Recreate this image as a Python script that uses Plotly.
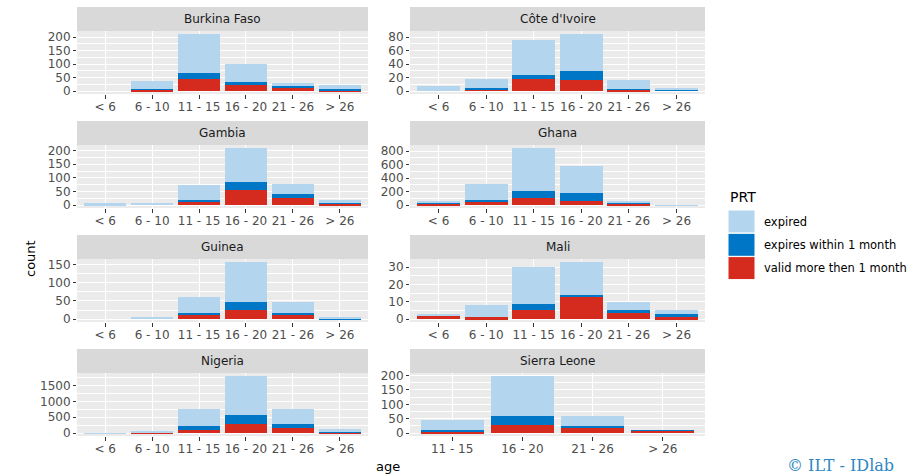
import plotly.graph_objects as go
from plotly.subplots import make_subplots

# Age groups (x categories) and countries (facets, row-wise)
age_groups = ["< 6", "6 - 10", "11 - 15", "16 - 20", "21 - 26", "> 26"]
countries = ["Burkina Faso", "Côte d'Ivoire", "Gambia", "Ghana",
             "Guinea", "Mali", "Nigeria", "Sierra Leone"]

# Counts per age group; None = age group absent for that country
valid_more_1m = {
    "Burkina Faso":  [0, 5, 44, 24, 10, 2],
    "Côte d'Ivoire": [0, 3, 18, 16, 2, 0],
    "Gambia":        [0, 0, 14, 56, 28, 6],
    "Ghana":         [28, 45, 113, 64, 20, 0],
    "Guinea":        [0, 0, 11, 26, 11, 0],
    "Mali":          [2, 1, 5, 13, 4, 1],
    "Nigeria":       [0, 5, 105, 283, 147, 30],
    "Sierra Leone":  [None, None, 6, 27, 17, 8],
}
expires_1m = {
    "Burkina Faso":  [0, 4, 25, 10, 9, 7],
    "Côte d'Ivoire": [0, 2, 6, 14, 1, 3],
    "Gambia":        [0, 0, 4, 30, 12, 1],
    "Ghana":         [4, 38, 93, 112, 14, 0],
    "Guinea":        [0, 0, 7, 20, 6, 3],
    "Mali":          [0, 0, 4, 1, 1, 2],
    "Nigeria":       [0, 0, 115, 294, 126, 10],
    "Sierra Leone":  [None, None, 5, 31, 9, 1],
}
expired = {
    "Burkina Faso":  [0, 27, 143, 66, 10, 12],
    "Côte d'Ivoire": [7, 13, 52, 55, 13, 1],
    "Gambia":        [7, 9, 56, 124, 38, 13],
    "Ghana":         [18, 236, 642, 407, 20, 2],
    "Guinea":        [0, 6, 44, 111, 31, 1],
    "Mali":          [1, 7, 21, 19, 5, 2],
    "Nigeria":       [1, 45, 535, 1228, 493, 75],
    "Sierra Leone":  [None, None, 33, 141, 32, 0],
}
y_dtick = {
    "Burkina Faso": 50, "Côte d'Ivoire": 20, "Gambia": 50, "Ghana": 200,
    "Guinea": 50, "Mali": 10, "Nigeria": 500, "Sierra Leone": 50,
}

series = [
    ("valid more then 1 month", valid_more_1m, "#D52B1E"),
    ("expires within 1 month", expires_1m, "#0076C6"),
    ("expired", expired, "#B3D6EE"),
]

W, H = 922, 475
col_px = [(77, 368), (410, 705)]
row_px = [(31, 94), (145, 208), (259, 322), (373, 436)]
STRIP = 24

TICK_FONT = dict(family="DejaVu Sans", size=12, color="#4D4D4D")

fig = make_subplots(rows=4, cols=2)

for i, country in enumerate(countries):
    r, c = divmod(i, 2)
    present = [v is not None for v in expired[country]]
    cats = [a for a, p in zip(age_groups, present) if p]
    totals = [0] * len(cats)
    for name, table, color in series:
        vals = [v for v, p in zip(table[country], present) if p]
        totals = [t + v for t, v in zip(totals, vals)]
        fig.add_trace(go.Bar(x=cats, y=vals, name=name, marker_color=color,
                             marker_line_width=0, showlegend=False),
                      row=r + 1, col=c + 1)
    top = max(totals)
    x0, x1 = col_px[c]
    y0, y1 = row_px[r]
    fig.update_xaxes(domain=[x0 / W, x1 / W], type="category",
                     categoryorder="array", categoryarray=cats,
                     range=[-0.6, len(cats) - 0.4],
                     showgrid=True, gridcolor="white", gridwidth=1.1,
                     ticks="outside", ticklen=4, tickcolor="#333333",
                     tickfont=TICK_FONT, showline=False, zeroline=False,
                     ticklabelstandoff=-2, automargin=False,
                     row=r + 1, col=c + 1)
    d = y_dtick[country]
    fig.update_yaxes(domain=[1 - y1 / H, 1 - y0 / H],
                     range=[-0.05 * top, 1.05 * top],
                     tick0=0, dtick=d,
                     showgrid=True, gridcolor="white", gridwidth=1.1,
                     minor=dict(dtick=d / 2, tick0=0, showgrid=True,
                                gridcolor="white", gridwidth=0.5),
                     ticks="outside", ticklen=3, tickcolor="#333333",
                     tickfont=TICK_FONT, showline=False, zeroline=False,
                     automargin=False,
                     row=r + 1, col=c + 1)
    # facet strip
    fig.add_shape(type="rect", xref="paper", yref="paper",
                  x0=x0 / W, x1=x1 / W,
                  y0=1 - y0 / H, y1=1 - (y0 - STRIP) / H,
                  fillcolor="#D9D9D9", line_width=0, layer="below")
    fig.add_annotation(x=(x0 + x1) / 2 / W, y=1 - (y0 - STRIP / 2) / H,
                       xref="paper", yref="paper", text=country,
                       showarrow=False, xanchor="center", yanchor="middle",
                       font=dict(family="DejaVu Sans", size=12,
                                 color="#1A1A1A"))

# axis titles
fig.add_annotation(x=388 / W, y=1 - 466 / H, xref="paper", yref="paper",
                   text="age", showarrow=False, xanchor="center",
                   yanchor="middle",
                   font=dict(family="DejaVu Sans", size=13, color="black"))
fig.add_annotation(x=30 / W, y=1 - 258 / H, xref="paper", yref="paper",
                   text="count", showarrow=False, textangle=-90,
                   xanchor="center", yanchor="middle",
                   font=dict(family="DejaVu Sans", size=13, color="black"))

# legend
fig.add_annotation(x=728 / W, y=1 - 197 / H, xref="paper", yref="paper",
                   text="PRT", showarrow=False, xanchor="left",
                   yanchor="middle",
                   font=dict(family="DejaVu Sans", size=14, color="black"))
key_top = 210
for k, (name, _, color) in enumerate(reversed(series)):
    ky0 = key_top + k * 23.3
    fig.add_shape(type="rect", xref="paper", yref="paper",
                  x0=728 / W, x1=755 / W,
                  y0=1 - (ky0 + 23) / H, y1=1 - ky0 / H,
                  fillcolor=color, line=dict(color="white", width=1))
    fig.add_annotation(x=762 / W, y=1 - (ky0 + 11.5) / H,
                       xref="paper", yref="paper", text=name,
                       showarrow=False, xanchor="left", yanchor="middle",
                       font=dict(family="DejaVu Sans", size=11.5,
                                 color="black"))

fig.add_annotation(x=896 / W, y=1 - 465 / H, xref="paper", yref="paper",
                   text="© ILT - IDlab", showarrow=False, xanchor="right",
                   yanchor="middle",
                   font=dict(family="DejaVu Serif", size=16, color="#2E87C2"))

fig.update_layout(width=W, height=H, margin=dict(l=0, r=0, t=0, b=0),
                  barmode="stack", bargap=0.1,
                  plot_bgcolor="#EBEBEB", paper_bgcolor="white",
                  showlegend=False)

fig.write_html("out.html")
